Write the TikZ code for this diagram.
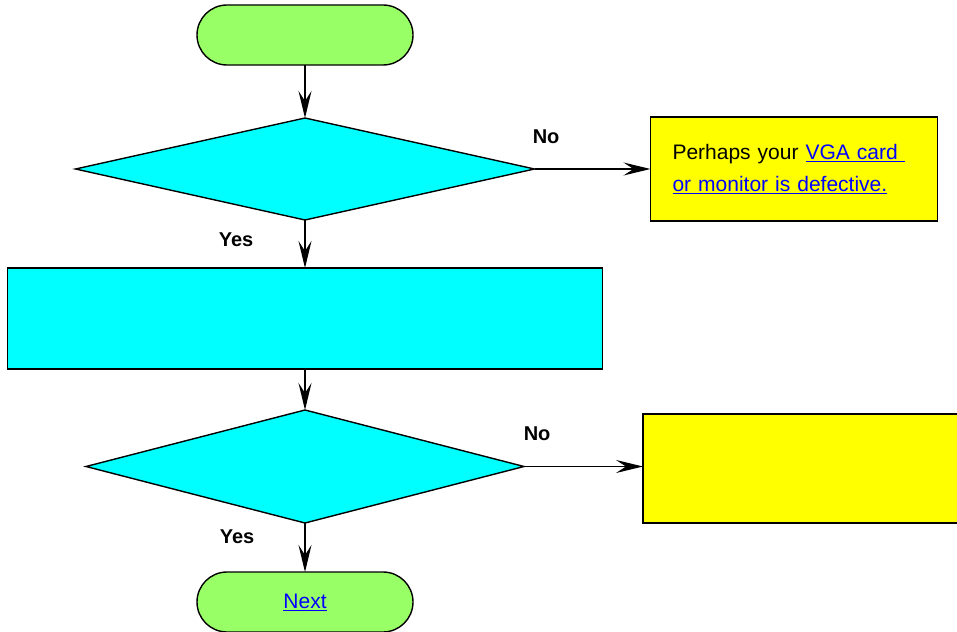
\documentclass[tikz,border=0pt]{standalone}
\usepackage{fontspec}
\setmainfont{Liberation Sans}
\usetikzlibrary{arrows.meta, positioning, shapes.geometric}
\definecolor{termfill}{HTML}{99FF66}
\definecolor{stepfill}{HTML}{00FFFF}
\definecolor{notefill}{HTML}{FFFF00}
\definecolor{linkblue}{HTML}{0000FF}
\newcommand{\weblink}[1]{\textcolor{linkblue}{\underline{#1}}}

\begin{document}
\begin{tikzpicture}[
  x=1pt, y=-1pt,
  font=\fontsize{21}{31.5}\selectfont,
  outline/.style={draw=black, line width=1.4pt, inner sep=0pt, outer sep=0pt},
  term/.style  ={outline, fill=termfill, rounded corners=30pt,
                 minimum width=216pt, minimum height=60pt},
  decide/.style={outline, diamond, fill=stepfill},
  proc/.style  ={outline, rectangle, fill=stepfill,
                 minimum width=595pt, minimum height=101pt},
  note/.style  ={outline, rectangle, fill=notefill},
  flow/.style  ={-{Stealth[length=27pt, width=13pt, inset=10pt]},
                 line width=1.3pt, draw=black},
  lab/.style   ={font=\fontsize{20}{24}\selectfont\bfseries, inner sep=0pt},
]
\useasboundingbox (0,0) rectangle (957,631);

\node[term] (start) at (305,35) {};
\node[decide, minimum width=459pt, minimum height=102pt,
      below=53pt of start] (check1) {};
\node[proc, below=48pt of check1] (action) {};
\node[decide, minimum width=438pt, minimum height=113pt,
      below=41pt of action] (check2) {};
\node[term, below=49pt of check2] (next) {\weblink{Next}};

\node[note, minimum width=287pt, minimum height=104pt,
      text width=243pt, inner xsep=22pt, align=left,
      right=116pt of check1] (defect)
     {Perhaps your \weblink{VGA card\ }\\ \weblink{or monitor is defective.}};
\node[note, minimum width=320pt, minimum height=109pt,
      right=119pt of check2, yshift=-2pt] (other) {};

\draw[flow] (start)  -- (check1);
\draw[flow] (check1) -- (action)
  node[lab, pos=.42, left=51pt] {Yes};
\draw[flow] (check1) -- (defect)
  node[lab, pos=.1, above=25pt] {No};
\draw[flow] (action) -- (check2);
\draw[flow] (check2) -- (next)
  node[lab, pos=.29, left=50pt] {Yes};
\draw[flow] (check2) -- (other.west |- check2)
  node[lab, pos=.11, above=25pt] {No};

\end{tikzpicture}
\end{document}
